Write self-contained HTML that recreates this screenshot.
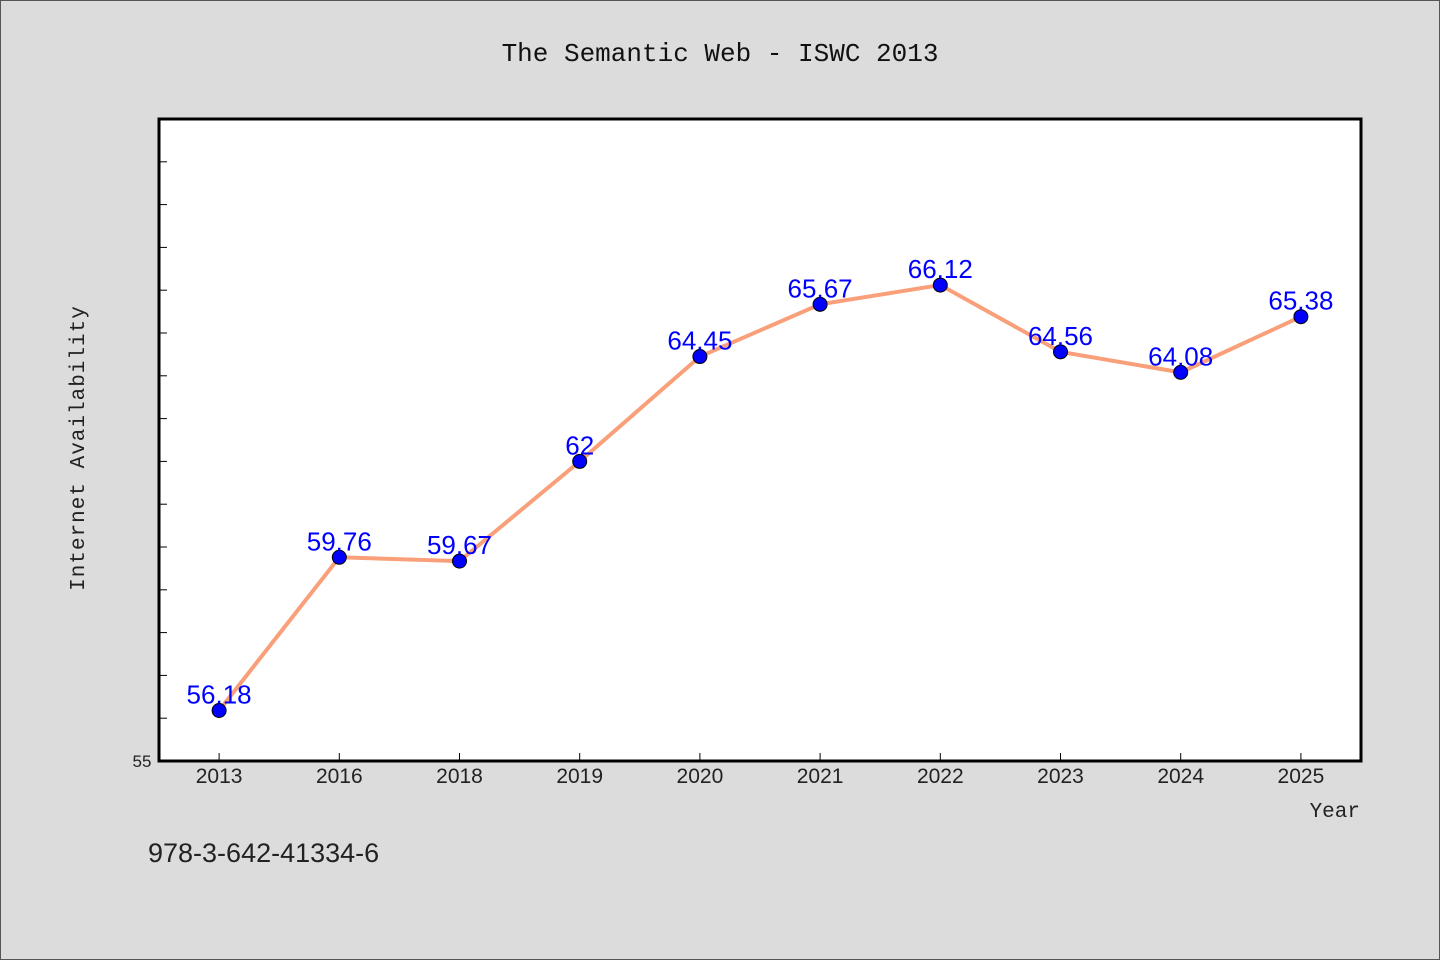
<!DOCTYPE html>
<html><head><meta charset="utf-8"><style>
body{margin:0;background:#dcdcdc;}
svg{display:block;font-family:"Liberation Sans","WenQuanYi Zen Hei",sans-serif;}
</style></head><body>
<svg width="1440" height="960">
<rect x="0.5" y="0.5" width="1439" height="959" fill="#dcdcdc" stroke="#555"/>
<text x="720" y="61" text-anchor="middle" font-size="26" fill="#111" font-family="Liberation Mono, WenQuanYi Zen Hei, monospace">The Semantic Web - ISWC 2013</text>
<rect x="159" y="119" width="1202" height="642" fill="#fff" stroke="#000" stroke-width="3"/>
<g id="yticks"></g><g id="xticks"></g>
<polyline id="line" fill="none" stroke="#f9a07a" stroke-width="4"/>
<g id="pts"></g>
<text x="142" y="767" text-anchor="middle" font-size="17" fill="#222">55</text>
<text transform="translate(84,448) rotate(-90)" text-anchor="middle" font-size="21" fill="#222" font-family="Liberation Mono, monospace" letter-spacing="1">Internet Availability</text>
<text x="1360" y="817" text-anchor="end" font-size="21" fill="#222" font-family="Liberation Mono, monospace">Year</text>
<text x="148" y="862" font-size="27" fill="#222">978-3-642-41334-6</text>
</svg>
<script>
const categories=["2013","2016","2018","2019","2020","2021","2022","2023","2024","2025"];
const values=[56.18,59.76,59.67,62,64.45,65.67,66.12,64.56,64.08,65.38];
const yMin=55,yMax=70;
const X0=159,X1=1361,Y0=761,Y1=119;
const ns="http://www.w3.org/2000/svg";
const step=(X1-X0)/categories.length;
function xs(i){return X0+step*(i+0.5);}
function ys(v){return Y0-(v-yMin)/(yMax-yMin)*(Y0-Y1);}
function mk(t,a,p){const e=document.createElementNS(ns,t);for(const k in a)e.setAttribute(k,a[k]);p.appendChild(e);return e;}
const yt=document.getElementById('yticks');
for(let v=yMin+1;v<yMax;v++){
 const l=mk('line',{x1:X0,x2:X0+8,y1:ys(v),y2:ys(v),stroke:'#000','stroke-width':1},yt);
 
 
}
const xt=document.getElementById('xticks');
categories.forEach((c,i)=>{
 const l=mk('line',{x1:xs(i),x2:xs(i),y1:Y0,y2:Y0-8,stroke:'#000','stroke-width':1},xt);
 
 
 const t=mk('text',{x:xs(i),y:783,'text-anchor':'middle','font-size':21,fill:'#222'},xt);
 t.textContent=c;
 
 
});
document.getElementById('line').setAttribute('points',values.map((v,i)=>xs(i)+','+ys(v)).join(' '));
const pts=document.getElementById('pts');
values.forEach((v,i)=>{
 const c=mk('circle',{cx:xs(i),cy:ys(v),r:7,fill:'#0000ff',stroke:'#000','stroke-width':1},pts);
 
 
 const t=mk('text',{x:xs(i),y:ys(v)-7,'text-anchor':'middle','font-size':26,fill:'#0000ff'},pts);
 t.textContent=String(v);
 
 
});
</script>
</body></html>
